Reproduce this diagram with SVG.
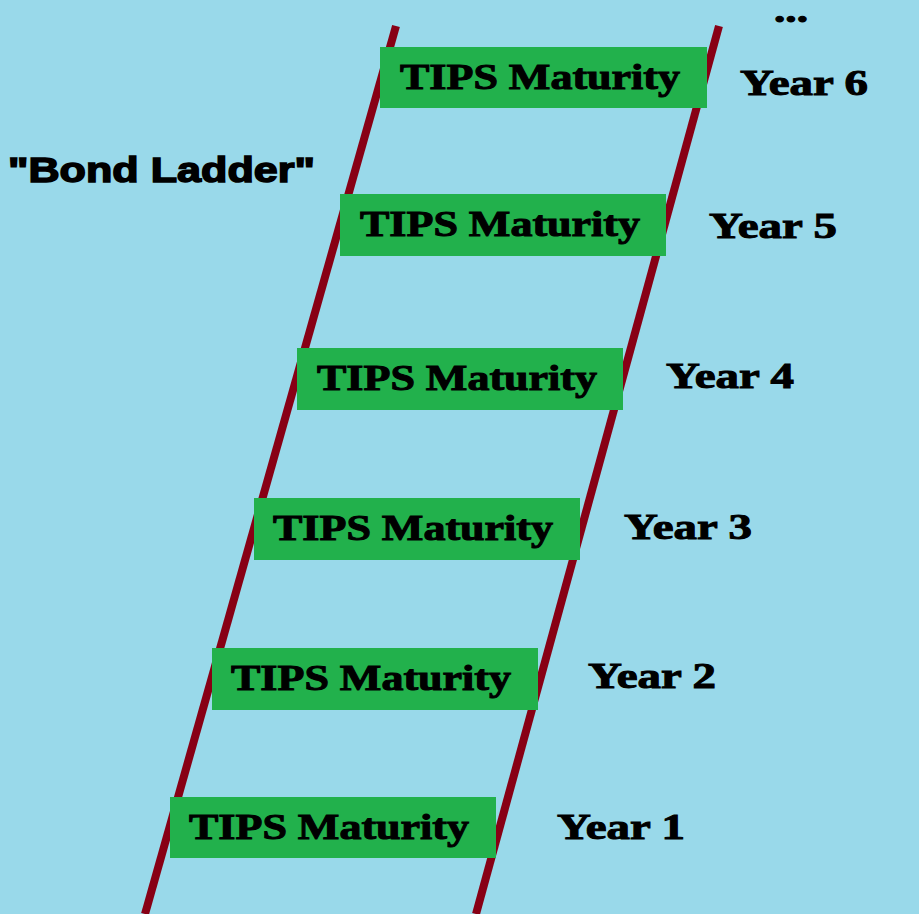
<svg xmlns="http://www.w3.org/2000/svg" width="919" height="914" viewBox="0 0 919 914">
<style>
.rung{fill:#22B14C}
.t{font-family:"Liberation Serif",serif;font-weight:bold;font-size:35px;fill:#000;stroke:#000;stroke-width:1}
.rail{stroke:#880015;stroke-width:8;fill:none}
</style>
<rect width="919" height="914" fill="#99D9EA"/>
<g id="connectors">
<line class="rail" x1="396" y1="26" x2="145" y2="914"/>
<line class="rail" x1="719" y1="26" x2="476" y2="914"/>
</g>
<text x="8" y="182" textLength="307" lengthAdjust="spacingAndGlyphs" style="font-family:'Liberation Sans',sans-serif;font-weight:bold;font-size:35px;stroke:#000;stroke-width:1.5">"Bond Ladder"</text>
<text class="t" x="774" y="22" textLength="34" lengthAdjust="spacingAndGlyphs">...</text>
<g id="rung6"><rect class="rung" x="380" y="47" width="327" height="61"/><text class="t" x="400" y="89" textLength="280" lengthAdjust="spacingAndGlyphs">TIPS Maturity</text><text class="t" x="740" y="95" textLength="128" lengthAdjust="spacingAndGlyphs">Year 6</text></g>
<g id="rung5"><rect class="rung" x="340" y="194" width="326" height="62"/><text class="t" x="360" y="236" textLength="280" lengthAdjust="spacingAndGlyphs">TIPS Maturity</text><text class="t" x="709" y="238" textLength="128" lengthAdjust="spacingAndGlyphs">Year 5</text></g>
<g id="rung4"><rect class="rung" x="297" y="348" width="326" height="62"/><text class="t" x="317" y="390" textLength="280" lengthAdjust="spacingAndGlyphs">TIPS Maturity</text><text class="t" x="666" y="388" textLength="128" lengthAdjust="spacingAndGlyphs">Year 4</text></g>
<g id="rung3"><rect class="rung" x="254" y="498" width="326" height="62"/><text class="t" x="273" y="540" textLength="280" lengthAdjust="spacingAndGlyphs">TIPS Maturity</text><text class="t" x="624" y="539" textLength="128" lengthAdjust="spacingAndGlyphs">Year 3</text></g>
<g id="rung2"><rect class="rung" x="212" y="648" width="326" height="62"/><text class="t" x="231" y="690" textLength="280" lengthAdjust="spacingAndGlyphs">TIPS Maturity</text><text class="t" x="588" y="688" textLength="128" lengthAdjust="spacingAndGlyphs">Year 2</text></g>
<g id="rung1"><rect class="rung" x="170" y="797" width="326" height="61"/><text class="t" x="189" y="839" textLength="280" lengthAdjust="spacingAndGlyphs">TIPS Maturity</text><text class="t" x="557" y="839" textLength="128" lengthAdjust="spacingAndGlyphs">Year 1</text></g>
</svg>
